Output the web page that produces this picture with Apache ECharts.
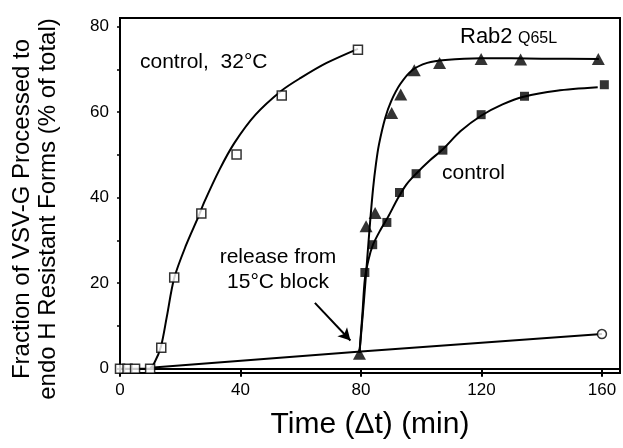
<!DOCTYPE html>
<html><head><meta charset="utf-8">
<script src="https://cdn.jsdelivr.net/npm/echarts@6/dist/echarts.min.js"></script>
<style>html,body{margin:0;padding:0;background:#fff}#c{width:623px;height:448px}</style>
</head><body><div id="c"></div>
<script>
// ---- data ----
const xTickValues = [0, 40, 80, 120, 160];
const yTickValues = [0, 20, 40, 60, 80];
const yMinorTickValues = [0, 10, 20, 30, 40, 50, 60, 70, 80];

// control, 32°C (open squares) and its fitted curve
const ctrl32Points = [[0,0],[2.5,0],[5,0],[10,0],[13.7,4.9],[18,21.3],[27,36.3],[38.7,50.1],[53.7,63.9],[79,74.6]];
const ctrl32Curve = [[0,0],[9.7,0],[11.5,1.5],[13.6,5.2],[15.5,12],[18,21.2],[22,29],[26,35.5],[28,39],[33,46.5],[38,52.8],[45,59.4],[53.6,65],[60,68],[68.6,71.5],[79,74.8]];

// 15°C block baseline (open circle at end)
const blockLine = [[10,0.2],[80,4],[160,8.1]];
const blockPoint = [[160,8.1]];

// Rab2 Q65L (filled triangles) and fitted curve
const rabPoints = [[79.5,3.5],[81.7,33.3],[84.7,36.4],[90.2,59.8],[93.2,64.1],[97.7,69.8],[106.1,71.5],[119.9,72.4],[133,72.3],[158.8,72.4]];
const rabCurve = [[79.5,3.7],[81,16],[82,25],[83,34],[84,42],[85,48],[86,52.5],[88,58.5],[90,62.5],[93,66.5],[97,69.8],[102,71.5],[108,72.2],[120,72.6],[140,72.5],[159,72.4]];

// control (filled squares) and fitted curve
const ctrlPoints = [[81.3,22.5],[83.9,29],[88.6,34.2],[92.8,41.2],[98.3,45.6],[107.2,51.1],[119.9,59.4],[134.3,63.7],[160.8,66.4]];
const ctrlCurve = [[79.5,3.7],[80.5,13],[81.3,21],[82.5,25.5],[84,29],[86.5,32.5],[89,35.5],[92,39.5],[95,43],[98.3,45.6],[103,48.8],[107.2,51.3],[113,55.5],[120,59.2],[127,61.8],[134,63.6],[145,65],[158.6,65.8]];

// arrow "release from 15°C block" (data coords)
const arrowFrom = [64.7, 15.4];
const arrowTo = [76.5, 6.6];

const FONT = 'Liberation Sans, Arial, Helvetica, sans-serif';
const chart = echarts.init(document.getElementById('c'), null, {renderer: 'canvas'});
const lineBase = {type: 'line', showSymbol: false, symbol: 'none', silent: true, z: 2,
  lineStyle: {color: '#000', width: 2}};

chart.setOption({
  animation: false,
  backgroundColor: '#fff',
  grid: {left: 120, right: 3, top: 18, bottom: 75, show: true, borderColor: '#000', borderWidth: 2, backgroundColor: 'transparent'},
  xAxis: {
    type: 'value', min: 0, max: 166, interval: 40,
    name: 'Time (\u0394t) (min)', nameLocation: 'middle', nameGap: 37,
    nameTextStyle: {fontFamily: FONT, fontSize: 30, color: '#000'},
    axisLine: {show: true, lineStyle: {color: '#000', width: 2}},
    axisTick: {show: true, inside: false, length: 8, lineStyle: {color: '#000', width: 2}},
    axisLabel: {fontFamily: FONT, fontSize: 17, color: '#000', margin: 9, showMaxLabel: false},
    splitLine: {show: false}
  },
  yAxis: {
    type: 'value', min: -1, max: 82,
    axisLine: {show: true, lineStyle: {color: '#000', width: 2}},
    axisTick: {show: true, length: 3, customValues: yMinorTickValues, lineStyle: {color: '#000', width: 1.5}},
    axisLabel: {fontFamily: FONT, fontSize: 17, color: '#000', margin: 11, customValues: yTickValues},
    splitLine: {show: false}
  },
  graphic: [
    {type: 'text', left: 140, top: 52, style: {text: 'control,  32\u00b0C', font: '21px ' + FONT, fill: '#000'}},
    {type: 'text', left: 460, top: 26, style: {text: 'Rab2', font: '22px ' + FONT, fill: '#000'}},
    {type: 'text', left: 518, top: 31, style: {text: 'Q65L', font: '16px ' + FONT, fill: '#000'}},
    {type: 'text', left: 442, top: 163, style: {text: 'control', font: '21px ' + FONT, fill: '#000'}},
    {type: 'text', x: 278, y: 270, style: {text: 'release from\n15\u00b0C block', font: '21px ' + FONT, fill: '#000', align: 'center', verticalAlign: 'middle', lineHeight: 25}},
    {type: 'text', x: 35, y: 209, rotation: Math.PI / 2, style: {text: 'Fraction of VSV-G Processed to\nendo H Resistant Forms (% of total)', font: '24px ' + FONT, fill: '#000', align: 'center', verticalAlign: 'middle', lineHeight: 26}}
  ],
  series: [
    Object.assign({}, lineBase, {data: ctrl32Curve, smooth: 0.3}),
    Object.assign({}, lineBase, {data: blockLine, smooth: false,
      markLine: {silent: true, symbol: ['none', 'arrow'], symbolSize: [10, 12], label: {show: false},
        lineStyle: {color: '#000', width: 2, type: 'solid'},
        data: [[{coord: arrowFrom}, {coord: arrowTo}]]}}),
    Object.assign({}, lineBase, {data: rabCurve, smooth: 0.3}),
    Object.assign({}, lineBase, {data: ctrlCurve, smooth: 0.3}),
    {type: 'scatter', data: ctrl32Points, symbol: 'rect', symbolSize: 9, z: 5,
      itemStyle: {color: '#fff', borderColor: '#000', borderWidth: 1.5}},
    {type: 'scatter', data: blockPoint, symbol: 'circle', symbolSize: 9, z: 5,
      itemStyle: {color: '#fff', borderColor: '#000', borderWidth: 1.5}},
    {type: 'scatter', data: rabPoints, symbol: 'triangle', symbolSize: [13, 12], z: 5,
      itemStyle: {color: '#000'}},
    {type: 'scatter', data: ctrlPoints, symbol: 'rect', symbolSize: 9, z: 5,
      itemStyle: {color: '#000'}}
  ]
});
</script></body></html>
